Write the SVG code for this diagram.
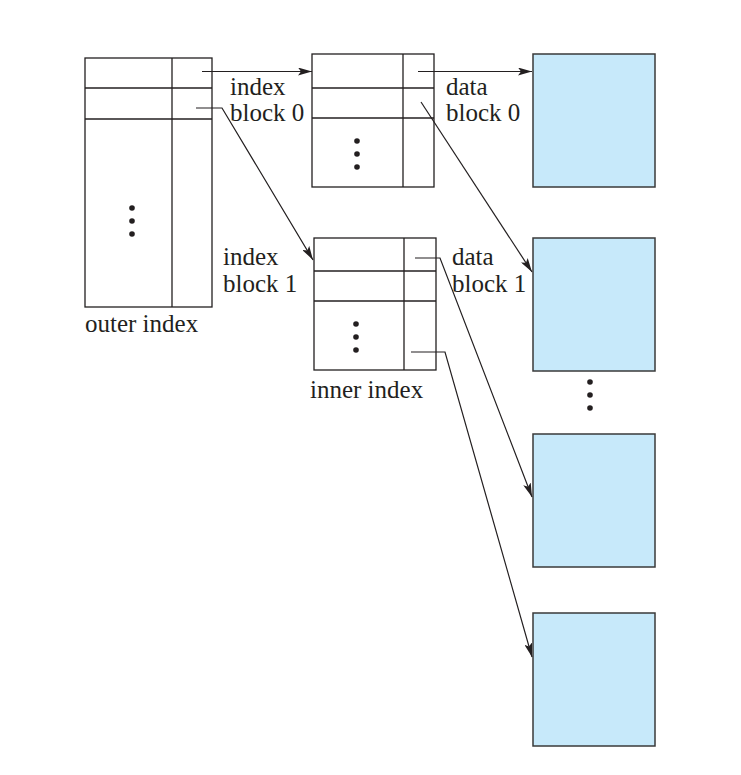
<svg xmlns="http://www.w3.org/2000/svg" width="741" height="775" viewBox="0 0 741 775">
<style>
.box{fill:#fff;stroke:#231f20;stroke-width:1.3}
.ln{fill:none;stroke:#231f20;stroke-width:1.3}
.data{fill:#c7e9fa;stroke:#3a3a3a;stroke-width:1.5}
.t{font-family:"Liberation Serif","Times New Roman",serif;font-size:25px;fill:#231f20}
.dot{fill:#231f20}
.con{fill:none;stroke:#231f20;stroke-width:1.2;marker-end:url(#ah)}
</style>
<defs>
<marker id="ah" viewBox="0 0 14 8" refX="14" refY="4" markerWidth="14" markerHeight="8" markerUnits="userSpaceOnUse" orient="auto">
<path d="M0,0 L14,4 L0,8 L3,4 Z" fill="#231f20"/>
</marker>
</defs>
<rect width="741" height="775" fill="#fff"/>
<g id="outer-index">
<rect class="box" x="85" y="58" width="127" height="249"/>
<line class="ln" x1="172" y1="58" x2="172" y2="307"/>
<line class="ln" x1="85" y1="88" x2="212" y2="88"/>
<line class="ln" x1="85" y1="119" x2="212" y2="119"/>
<circle class="dot" cx="132" cy="208" r="2.8"/>
<circle class="dot" cx="132" cy="221" r="2.8"/>
<circle class="dot" cx="132" cy="234" r="2.8"/>
<text class="t" x="85" y="332">outer index</text>
</g>
<g id="index-block-0">
<rect class="box" x="312" y="54" width="122" height="133"/>
<line class="ln" x1="403" y1="54" x2="403" y2="187"/>
<line class="ln" x1="312" y1="88" x2="434" y2="88"/>
<line class="ln" x1="312" y1="118" x2="434" y2="118"/>
<circle class="dot" cx="357" cy="141" r="2.8"/>
<circle class="dot" cx="357" cy="154" r="2.8"/>
<circle class="dot" cx="357" cy="167" r="2.8"/>
<text class="t" x="230" y="95">index</text>
<text class="t" x="230" y="121">block 0</text>
</g>
<g id="inner-index">
<rect class="box" x="314" y="238" width="122" height="132"/>
<line class="ln" x1="404" y1="238" x2="404" y2="370"/>
<line class="ln" x1="314" y1="271" x2="436" y2="271"/>
<line class="ln" x1="314" y1="301" x2="436" y2="301"/>
<circle class="dot" cx="356" cy="324" r="2.8"/>
<circle class="dot" cx="356" cy="337" r="2.8"/>
<circle class="dot" cx="356" cy="350" r="2.8"/>
<text class="t" x="223" y="265">index</text>
<text class="t" x="223" y="292">block 1</text>
<text class="t" x="310" y="398">inner index</text>
</g>
<g id="data-block-0">
<rect class="data" x="533" y="54" width="122" height="133"/>
<text class="t" x="446" y="95">data</text>
<text class="t" x="446" y="121">block 0</text>
</g>
<g id="data-block-1">
<rect class="data" x="533" y="238" width="122" height="133"/>
<text class="t" x="452" y="265">data</text>
<text class="t" x="452" y="292">block 1</text>
</g>
<g id="data-dots">
<circle class="dot" cx="590" cy="382" r="2.8"/>
<circle class="dot" cx="590" cy="395" r="2.8"/>
<circle class="dot" cx="590" cy="408" r="2.8"/>
</g>
<g id="data-block-2">
<rect class="data" x="533" y="434" width="122" height="133"/>
</g>
<g id="data-block-3">
<rect class="data" x="533" y="613" width="122" height="133"/>
</g>
<g id="connectors">
<path class="con" d="M202,71.5 L312,71.5"/>
<path class="con" d="M196,108 L222,108 L313,260"/>
<path class="con" d="M418,71.5 L532,71.5"/>
<path class="con" d="M421,102 L532,272"/>
<path class="con" d="M415,258 L440,258 L532,497"/>
<path class="con" d="M411,352 L445,352 L532,657"/>
</g>
</svg>
